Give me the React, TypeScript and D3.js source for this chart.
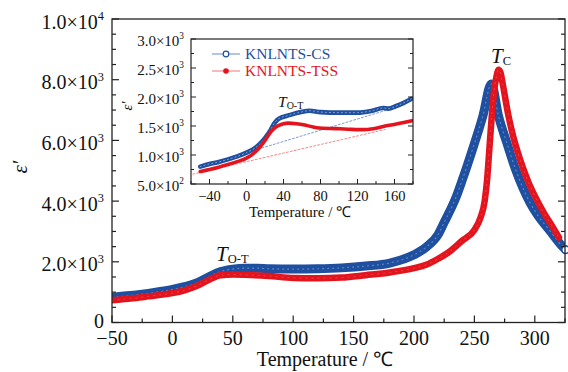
import React from "react";
import * as d3 from "d3";

const W = 568;
const H = 372;
const BLUE = "#1f4f9f";
const RED = "#e3141d";
const FONT = "'Liberation Serif', 'Times New Roman', serif";

// main panel: KNLNTS-CS (open circles)
const csTemp = [-50, -40, -30, -20, -10, 0, 10, 20, 30, 40, 50, 60, 70, 80, 100, 120, 140, 160, 180, 200, 210, 220, 225, 230, 235, 240, 248, 257, 264, 270, 277, 284, 290, 296, 303, 312, 323, 325.5];
const csEps = [820, 870, 910, 960, 1020, 1090, 1180, 1300, 1500, 1680, 1760, 1790, 1790, 1770, 1760, 1770, 1800, 1860, 1960, 2230, 2480, 2900, 3300, 3700, 4150, 4700, 5650, 6800, 7860, 6800, 5900, 5050, 4450, 3950, 3500, 3050, 2500, 2400];

// main panel: KNLNTS-TSS (filled circles)
const tssTemp = [-50, -40, -30, -20, -10, 0, 10, 20, 30, 40, 50, 60, 80, 100, 120, 140, 160, 180, 200, 210, 220, 230, 240, 250, 255, 258.5, 260.5, 262.3, 264.3, 266, 268, 270, 271.5, 273.5, 278, 282, 286, 290, 295, 300, 308, 314, 320];
const tssEps = [730, 770, 810, 860, 910, 970, 1060, 1200, 1400, 1560, 1580, 1570, 1530, 1470, 1460, 1480, 1560, 1650, 1790, 1900, 2100, 2350, 2700, 3050, 3450, 4000, 4700, 5670, 6760, 7530, 8050, 8330, 8250, 7850, 6850, 6150, 5600, 5120, 4600, 4170, 3580, 3200, 2800];

// inset
const csInTemp = [-50, -40, -30, -20, -10, 0, 10, 15, 20, 25, 29, 33, 38, 43, 50, 58, 68, 80, 100, 120, 135, 148, 153, 162, 170, 178];
const csInEps = [800, 845, 880, 925, 975, 1040, 1130, 1200, 1290, 1400, 1517, 1603, 1650, 1672, 1705, 1736, 1764, 1740, 1730, 1730, 1760, 1810, 1800, 1845, 1900, 1966];
const tssInTemp = [-50, -40, -30, -20, -10, 0, 10, 15, 20, 25, 30, 35, 40, 45, 54, 65, 76, 97, 110, 126, 137, 150, 162, 170, 179];
const tssInEps = [714, 750, 790, 835, 885, 945, 1060, 1145, 1250, 1374, 1460, 1510, 1540, 1550, 1540, 1510, 1471, 1454, 1445, 1437, 1454, 1500, 1534, 1560, 1592];
const csBaseTemp = [0, 158];
const csBaseEps = [1040, 1805];
const tssBaseTemp = [-58, 150];
const tssBaseEps = [670, 1440];

const mainXTicks = [-50, 0, 50, 100, 150, 200, 250, 300];
const mainYTicks = [0, 2000, 4000, 6000, 8000, 10000];
const mainYLabels = ["0", "2.0×10^3", "4.0×10^3", "6.0×10^3", "8.0×10^3", "1.0×10^4"];
const inXTicks = [-40, 0, 40, 80, 120, 160];
const inYTicks = [500, 1000, 1500, 2000, 2500, 3000];
const inYLabels = ["5.0×10^2", "1.0×10^3", "1.5×10^3", "2.0×10^3", "2.5×10^3", "3.0×10^3"];

const zip = (a: number[], b: number[]) => a.map((v, i) => [v, b[i]] as [number, number]);
const fmt = (v: number) => (v < 0 ? "\u2212" + Math.abs(v) : String(v));

function SupText({ label, x, y, size, anchor }: any) {
  const [base, sup] = label.split("^");
  return (
    <text x={x} y={y} fontSize={size} textAnchor={anchor} fontFamily={FONT} fill="#111">
      {base}
      {sup && (
        <tspan dy={-size * 0.42} fontSize={size * 0.62}>
          {sup}
        </tspan>
      )}
    </text>
  );
}

export default function App() {
  // main scales
  const x = d3.scaleLinear().domain([-50, 325]).range([112, 565]);
  const y = d3.scaleLinear().domain([0, 10000]).range([322.5, 19]);
  // inset scales
  const ix = d3.scaleLinear().domain([-60, 180]).range([191, 413]);
  const iy = d3.scaleLinear().domain([500, 3000]).range([184, 39]);

  const line = d3.line<[number, number]>().x((d) => x(d[0])).y((d) => y(d[1])).curve(d3.curveMonotoneX);
  const iline = d3.line<[number, number]>().x((d) => ix(d[0])).y((d) => iy(d[1])).curve(d3.curveMonotoneX);

  const cs = zip(csTemp, csEps);
  const tss = zip(tssTemp, tssEps);
  const csIn = zip(csInTemp, csInEps);
  const tssIn = zip(tssInTemp, tssInEps);

  const [x0, x1] = x.range();
  const [y0, y1] = y.range();
  const [ix0, ix1] = ix.range();
  const [iy0, iy1] = iy.range();

  const mainMinorX = d3.range(-50, 326, 25);
  const mainMinorY = d3.range(0, 10001, 500);
  const inMinorX = d3.range(-60, 181, 20);
  const inMinorY = d3.range(500, 3001, 250);
  const last = cs[cs.length - 1];

  return (
    <div style={{ position: "absolute", left: 0, top: 0 }}>
      <svg width={W} height={H} style={{ display: "block" }}>
        <defs>
          <clipPath id="mainClip">
            <rect x={x0} y={y1} width={x1 - x0} height={y0 - y1} />
          </clipPath>
          <clipPath id="inClip">
            <rect x={ix0} y={iy1} width={ix1 - ix0} height={iy0 - iy1} />
          </clipPath>
        </defs>
        <rect width={W} height={H} fill="#fff" />

        {/* main curves */}
        <g clipPath="url(#mainClip)" fill="none" strokeLinecap="round" strokeLinejoin="round">
          <path d={line(cs) || ""} stroke={BLUE} strokeWidth={9} />
          <path d={line(cs) || ""} stroke="#7d9ad6" strokeWidth={1.2} strokeDasharray="1 4" opacity={0.7} />
          <path d={line(tss) || ""} stroke={RED} strokeWidth={6.5} />
          <path d={line(tss) || ""} stroke="#f06a6a" strokeWidth={1} strokeDasharray="1 5" opacity={0.6} />
        </g>
        <circle cx={x(last[0])} cy={y(last[1])} r={3.8} fill="#fff" stroke={BLUE} strokeWidth={1.6} />

        {/* main frame */}
        <rect x={x0} y={y1} width={x1 - x0} height={y0 - y1} fill="none" stroke="#222" strokeWidth={1.3} />
        {mainMinorX.map((t) => {
          const major = mainXTicks.includes(t);
          return <line key={"mx" + t} x1={x(t)} x2={x(t)} y1={y0} y2={y0 - (major ? 7 : 4)} stroke="#222" strokeWidth={1.2} />;
        })}
        {mainMinorY.map((t) => {
          const len = mainYTicks.includes(t) ? 7 : 4;
          return (
            <g key={"my" + t}>
              <line x1={x0} x2={x0 + len} y1={y(t)} y2={y(t)} stroke="#222" strokeWidth={1.2} />
              <line x1={x1} x2={x1 - len} y1={y(t)} y2={y(t)} stroke="#222" strokeWidth={1.2} />
            </g>
          );
        })}
        {mainXTicks.map((t) => (
          <text key={"mxl" + t} x={x(t)} y={344.5} fontSize={20} textAnchor="middle" fontFamily={FONT} fill="#111">
            {fmt(t)}
          </text>
        ))}
        {mainYTicks.map((t, i) => (
          <SupText key={"myl" + t} label={mainYLabels[i]} x={104} y={y(t) + (t === 0 ? 5 : 9.5)} size={20} anchor="end" />
        ))}
        <text x={325} y={366} fontSize={20} textAnchor="middle" fontFamily={FONT} fill="#111">
          Temperature / ℃
        </text>
        <text transform="translate(27,167) rotate(-90)" fontSize={21} textAnchor="middle" fontFamily={FONT} fontStyle="italic" fill="#111">
          ε′
        </text>
        <text x={216} y={260.5} fontSize={21} fontFamily={FONT} fontStyle="italic" fill="#111">
          T
          <tspan fontStyle="normal" fontSize={12.5} dy={2}>O-T</tspan>
        </text>
        <text x={491} y={63} fontSize={21} fontFamily={FONT} fontStyle="italic" fill="#111">
          T
          <tspan fontStyle="normal" fontSize={12.5} dy={2}>C</tspan>
        </text>

        {/* inset */}
        <rect x={ix0} y={iy1} width={ix1 - ix0} height={iy0 - iy1} fill="#fff" />
        <g clipPath="url(#inClip)" fill="none" strokeLinecap="round" strokeLinejoin="round">
          <path d={iline(zip(csBaseTemp, csBaseEps)) || ""} stroke="#6f8fd0" strokeWidth={0.9} strokeDasharray="2 2" />
          <path d={iline(zip(tssBaseTemp, tssBaseEps)) || ""} stroke="#f27b7b" strokeWidth={0.9} strokeDasharray="2 2" />
          <path d={iline(csIn) || ""} stroke={BLUE} strokeWidth={4.6} />
          <path d={iline(csIn) || ""} stroke="#a9bde6" strokeWidth={1} strokeDasharray="1 3" opacity={0.8} />
          <path d={iline(tssIn) || ""} stroke={RED} strokeWidth={3.6} />
        </g>
        <rect x={ix0} y={iy1} width={ix1 - ix0} height={iy0 - iy1} fill="none" stroke="#222" strokeWidth={1.2} />
        {inMinorX.map((t) => {
          const major = inXTicks.includes(t);
          return <line key={"ix" + t} x1={ix(t)} x2={ix(t)} y1={iy0} y2={iy0 - (major ? 5 : 3)} stroke="#222" strokeWidth={1} />;
        })}
        {inMinorY.map((t) => {
          const len = inYTicks.includes(t) ? 5 : 3;
          return (
            <g key={"iy" + t}>
              <line x1={ix0} x2={ix0 + len} y1={iy(t)} y2={iy(t)} stroke="#222" strokeWidth={1} />
              <line x1={ix1} x2={ix1 - len} y1={iy(t)} y2={iy(t)} stroke="#222" strokeWidth={1} />
            </g>
          );
        })}
        {inXTicks.map((t) => (
          <text key={"ixl" + t} x={ix(t)} y={200.5} fontSize={14.5} textAnchor="middle" fontFamily={FONT} fill="#111">
            {fmt(t)}
          </text>
        ))}
        {inYTicks.map((t, i) => (
          <SupText key={"iyl" + t} label={inYLabels[i]} x={184} y={iy(t) + 6.5} size={15} anchor="end" />
        ))}
        <text x={300} y={216.5} fontSize={15} textAnchor="middle" fontFamily={FONT} fill="#111">
          Temperature / ℃
        </text>
        <text transform="translate(132,106) rotate(-90)" fontSize={15} textAnchor="middle" fontFamily={FONT} fontStyle="italic" fill="#111">
          ε′
        </text>
        <text x={278} y={107} fontSize={15.5} fontFamily={FONT} fontStyle="italic" fill="#111">
          T
          <tspan fontStyle="normal" fontSize={10} dy={1.5}>O-T</tspan>
        </text>

        {/* legend */}
        <line x1={212} x2={240} y1={54} y2={54} stroke="#7f9ed8" strokeWidth={1.2} />
        <circle cx={226} cy={54} r={2.8} fill="#fff" stroke={BLUE} strokeWidth={1.2} />
        <text x={245} y={58.5} fontSize={15.5} fontFamily={FONT} fill={BLUE}>KNLNTS-CS</text>
        <line x1={212} x2={240} y1={71} y2={71} stroke="#f28a8a" strokeWidth={1.2} />
        <circle cx={226} cy={71} r={2.8} fill={RED} />
        <text x={245} y={75.5} fontSize={15.5} fontFamily={FONT} fill={RED}>KNLNTS-TSS</text>
      </svg>
    </div>
  );
}
